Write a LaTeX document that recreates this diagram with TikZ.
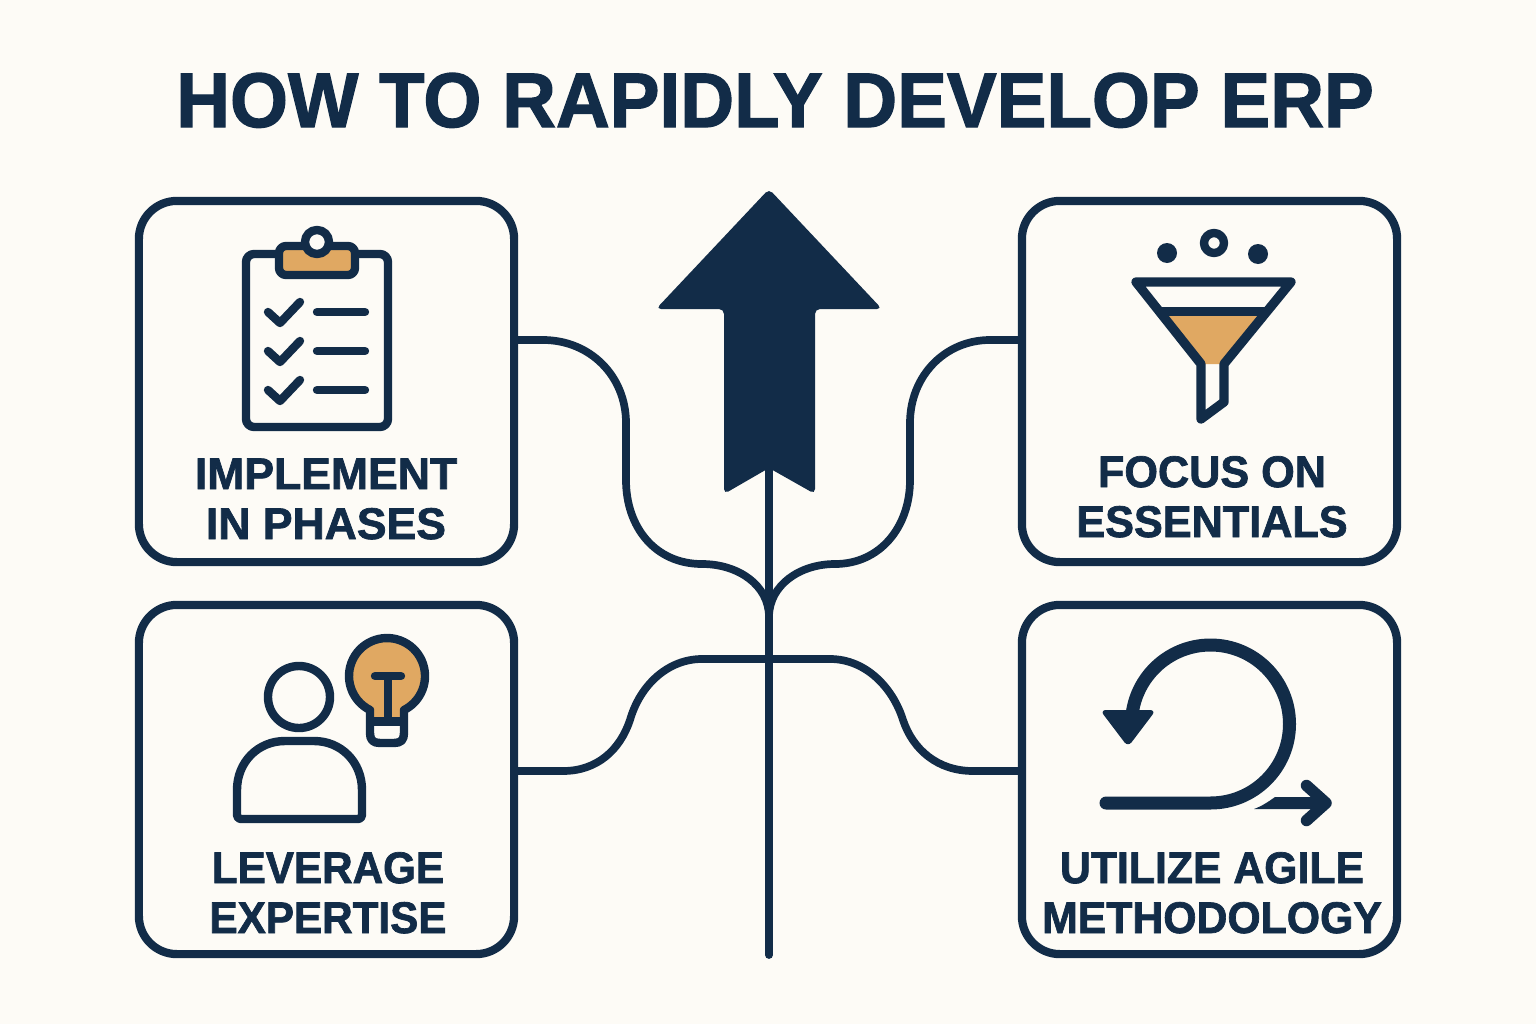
\documentclass[tikz,border=0pt]{standalone}
\usepackage{fontspec}
\setmainfont{Liberation Sans}
\newfontfamily\headfont[FakeBold=1.6]{Liberation Sans Bold}
\definecolor{navy}{HTML}{122C48}
\definecolor{accent}{HTML}{E0A862}
\definecolor{paper}{HTML}{FDFBF6}
\begin{document}
\begin{tikzpicture}[x=.01cm,y=-.01cm,
    panel/.style={draw=navy,line width=.082cm,rounded corners=.38cm,minimum width=3.75cm,minimum height=3.61cm,inner sep=0pt,outer sep=0pt},
    lowpanel/.style={panel,minimum height=3.49cm},
    paneltext/.style={text=navy,align=center,anchor=base,inner sep=0pt,transform shape,font=\fontsize{12.6pt}{14.2pt}\headfont},
    wire/.style={draw=navy,line width=.077cm,line cap=round,line join=round},
    icon/.style={draw=navy,line width=.084cm,line cap=round,line join=round}]

      \useasboundingbox (0,0) rectangle (1536,1024);
      \fill[paper] (0,0) rectangle (1536,1024);

      \node[text=navy,anchor=base,inner sep=0pt,transform shape,xscale=.964,font=\fontsize{22pt}{22pt}\headfont] (title) at (775,127) {HOW TO RAPIDLY DEVELOP ERP};

      \begin{scope}[every node/.style={panel}]
        \node (implement) at (326.5,381.5) {};
        \node (focus)     at (1209.5,381.5) {};
      \end{scope}

      \begin{scope}[every node/.style={lowpanel}]
        \node (leverage) at (326.5,779.5) {};
        \node (agile)    at (1209.5,779.5) {};
      \end{scope}

      \begin{scope}[every node/.style={paneltext}]
        \node[xscale=1.005] (implementtext) at (326,539) {IMPLEMENT\\IN PHASES};
        \node[xscale=.975]  (focustext)     at (1212,537) {FOCUS ON\\ESSENTIALS};
        \node[xscale=.953]  (leveragetext)  at (328,933) {LEVERAGE\\EXPERTISE};
        \node[xscale=.965]  (agiletext)     at (1212,933) {UTILIZE AGILE\\METHODOLOGY};
      \end{scope}

      \coordinate (porta) at (514,340);
      \coordinate (portb) at (1022,340);
      \coordinate (portc) at (514,771);
      \coordinate (portd) at (1022,771);
      \coordinate (merge) at (769,617);
      \coordinate (notch) at (769,470);
      \coordinate (root)  at (769,955);

      \fill[navy,rounded corners=.05cm] (769,189) -- (882,309) -- (815,309) -- (815,494) -- (769,468) -- (724,494) -- (724,309) -- (656,309) -- cycle;

      \begin{scope}[every edge/.style={wire}]
        \path (notch) edge (root);
      \end{scope}

      \draw[wire] (porta) -- (543,340) .. controls (590,340) and (626,376) .. (626,423) -- (626,480) .. controls (626,527) and (655,564) .. (702,564) .. controls (738,564) and (769,585) .. (merge);
      \draw[wire] (portb) -- (990,340) .. controls (945,340) and (910,376) .. (910,423) -- (910,480) .. controls (910,527) and (880,564) .. (835,564) .. controls (800,564) and (769,585) .. (merge);
      \draw[wire] (portc) -- (563,771) .. controls (597,771) and (620,750) .. (630,720) .. controls (640,685) and (668,659) .. (702,659) -- (830,659) .. controls (866,659) and (893,688) .. (903,720) .. controls (913,750) and (938,771) .. (973,771) -- (portd);

      \draw[icon,rounded corners=.08cm] (246,254) rectangle (388,427);
      \fill[accent] (279,246) rectangle (355,275);
      \draw[icon,rounded corners=.07cm] (279,246) rectangle (355,275);
      \draw[icon,fill=paper] (317,242) circle (12);
      \draw[icon] (268,312) -- (280,323) -- (300,302);
      \draw[icon] (268,351) -- (280,362) -- (300,341);
      \draw[icon] (268,390) -- (280,401) -- (300,380);
      \draw[icon] (317,312) -- (365,312);
      \draw[icon] (317,351) -- (365,351);
      \draw[icon] (317,390) -- (365,390);

      \fill[navy] (1167,253) circle (10);
      \fill[navy] (1258,254) circle (10);
      \draw[icon] (1214,243) circle (10);
      \fill[accent] (1155,311) -- (1272,311) -- (1224,364) -- (1201,364) -- cycle;
      \draw[icon,line width=.093cm] (1136,282) -- (1291,282) -- (1224,364) -- (1224,402) -- (1201,419) -- (1201,364) -- cycle;
      \draw[icon,line width=.093cm,line cap=butt] (1158,311.5) -- (1268,311.5);

      \draw[icon] (299,697) circle (31);
      \draw[icon] (237,815) -- (237,790) .. controls (237,762) and (258,741) .. (285,741) -- (314,741) .. controls (341,741) and (362,762) .. (362,790) -- (362,815) .. controls (362,818) and (360,819) .. (358,819) -- (241,819) .. controls (239,819) and (237,818) .. (237,815) -- cycle;

      \fill[accent] (370,710) arc (116.6:423.4:38) -- (404,721) -- (370,721) -- cycle;
      \draw[icon] (370,710) arc (116.6:423.4:38) -- (404,733) .. controls (404,740) and (401,743) .. (394,743) -- (380,743) .. controls (373,743) and (370,740) .. (370,733) -- cycle;
      \draw[icon,line cap=butt] (370,721.5) -- (404,721.5);
      \draw[icon,line cap=butt] (388,676) -- (388,721);
      \draw[icon] (375,676) -- (401,676);

      \draw[icon,line width=.13cm] (1106,803) -- (1210.5,803) arc (90:-172:79);
      \fill[navy,rounded corners=.06cm] (1100,710) -- (1156,710) -- (1128,747) -- cycle;
      \fill[navy] (1254,809) .. controls (1262,806) and (1268,802) .. (1275,797) -- (1320,797) -- (1320,809) -- cycle;
      \draw[icon,line width=.115cm] (1306.5,785.5) -- (1326,803) -- (1306.5,820.5);

    \end{tikzpicture}
\end{document}
